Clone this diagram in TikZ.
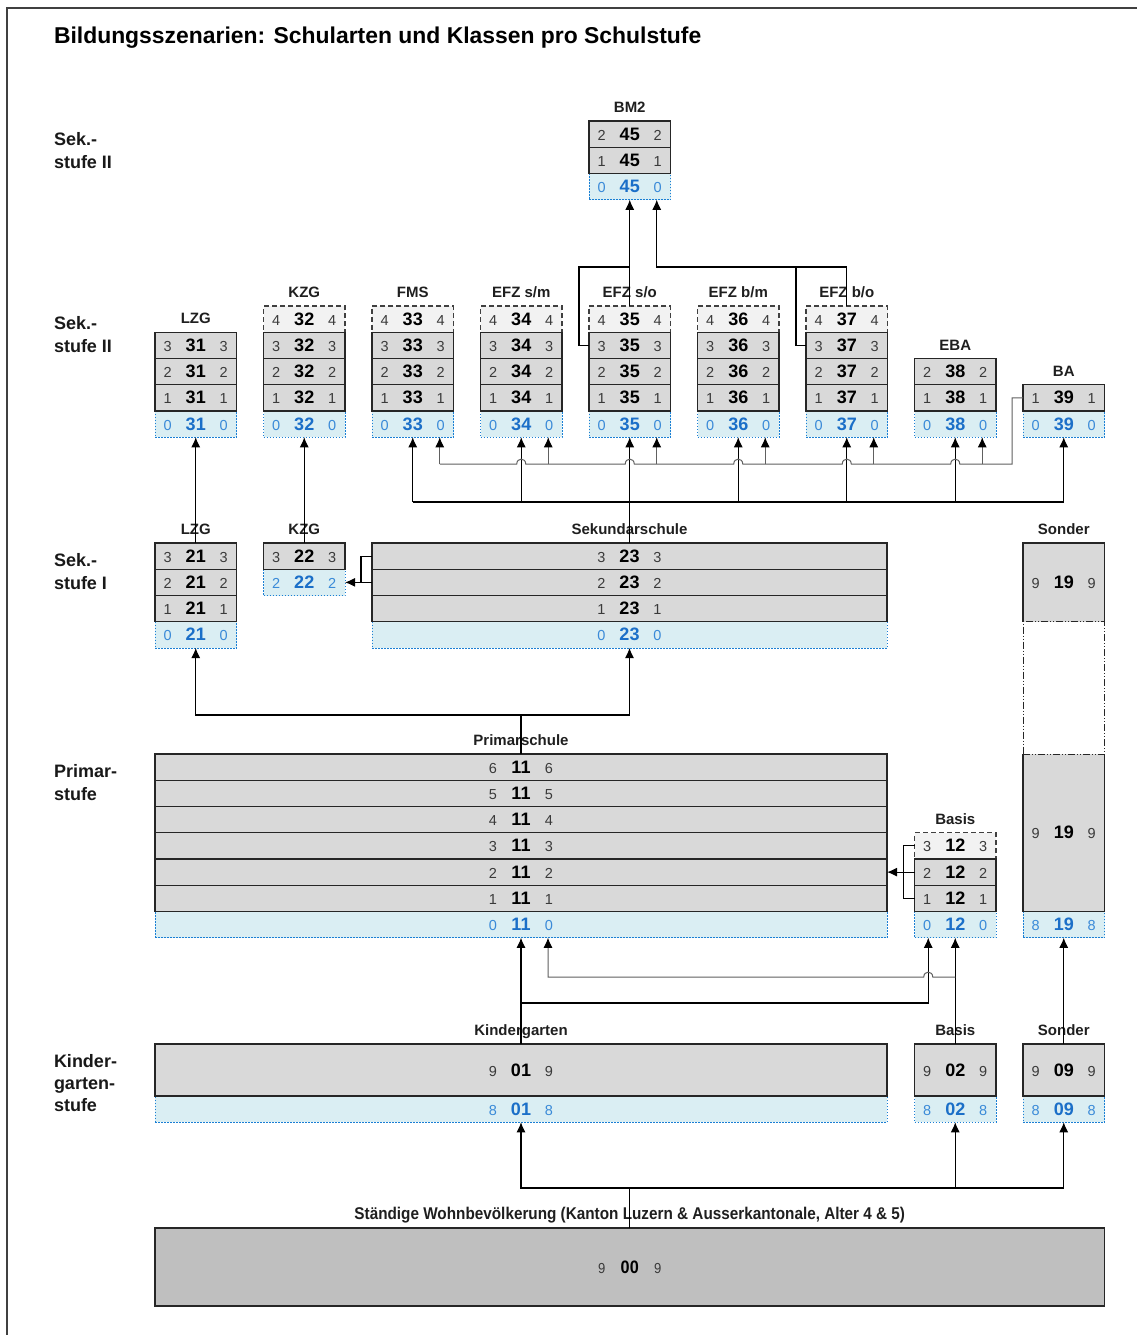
\documentclass[tikz,border=0pt]{standalone}
\usepackage{fontspec}
\setmainfont{Liberation Sans}
\newfontfamily\narrowfont[FakeStretch=0.9]{Liberation Sans}
\usetikzlibrary{arrows.meta,calc}
\definecolor{cgray}{HTML}{D9D9D9}
\definecolor{cfade}{HTML}{F2F2F2}
\definecolor{cblue}{HTML}{DAEEF3}
\definecolor{bborder}{HTML}{1A7FD4}
\definecolor{btext}{HTML}{3A8AD8}
\definecolor{bbig}{HTML}{1B6FC8}
\definecolor{cdark}{HTML}{BFBFBF}
\definecolor{tdark}{HTML}{3A3A3A}
\definecolor{lgray}{HTML}{606060}
\tikzset{
 every node/.style={inner sep=0pt, outer sep=0pt},
 gbox/.style={draw=black!85, fill=cgray, line width=1.1pt},
 sbox/.style={fill=cgray},
 fbox/.style={draw=black!75, fill=cfade, line width=1.1pt, dash pattern=on 5pt off 3pt},
 bbox/.style={draw=bborder, fill=cblue, line width=0.9pt, dash pattern=on 1.5pt off 1.5pt},
 dbox/.style={draw=black!85, fill=cdark, line width=1.1pt},
 gsm/.style={font=\fontsize{14.5}{16}\selectfont, text=tdark},
 gbg/.style={font=\fontsize{18}{20}\selectfont\bfseries, text=black},
 ssm/.style={gsm}, sbg/.style={gbg},
 fsm/.style={gsm}, fbg/.style={gbg},
 bsm/.style={font=\fontsize{14.5}{16}\selectfont, text=btext},
 bbg/.style={font=\fontsize{18}{20}\selectfont\bfseries, text=bbig},
 dsm/.style={font=\narrowfont\fontsize{14.5}{16}\selectfont, text=tdark},
 dbg/.style={font=\narrowfont\fontsize{18}{20}\selectfont\bfseries, text=black},
 lab/.style={font=\fontsize{15}{17}\selectfont\bfseries, text=black!88, anchor=base},
 side/.style={font=\fontsize{18}{20}\selectfont\bfseries, text=black!90, anchor=base west},
 bline/.style={draw=black!85, line width=1.1pt},
 arr/.style={line width=1.1pt, -{Latex[length=10pt,width=9pt]}},
 con/.style={line width=1.1pt},
 garr/.style={line width=1pt, draw=lgray, -{Latex[length=10pt,width=9pt,color=black]}},
 gcon/.style={line width=1pt, draw=lgray},
}
\newcommand\mkcell[8]{%
 \node[#2box, minimum width=#5pt, minimum height=#6pt, anchor=north west] (#1) at (#3,#4) {};
 \node[#2sm, anchor=base] (#1-l) at ($(#1.center)+(-28,6)$) {#7};
 \node[#2bg, anchor=base] (#1-m) at ($(#1.center)+(0,6)$) {#8};
 \node[#2sm, anchor=base] (#1-r) at ($(#1.center)+(28,6)$) {#7};
}
\begin{document}
\begin{tikzpicture}[x=1pt,y=-1pt]
\useasboundingbox (0,0) rectangle (1137,1335);
\fill[white] (0,0) rectangle (1137,1335);
\draw[black!75, line width=1.2pt] (7,1335) -- (7,8) -- (1137,8);

% title and side labels
\node[font=\fontsize{22.9}{25}\selectfont\bfseries, anchor=base west] (title) at (54,44) {Bildungsszenarien: Schularten und Klassen pro Schulstufe};
\node[side] (s1a) at (54,146) {Sek.-};
\node[side] (s1b) at (54,168) {stufe II};
\node[side] (s2a) at (54,329) {Sek.-};
\node[side] (s2b) at (54,352) {stufe II};
\node[side] (s3a) at (54,566) {Sek.-};
\node[side] (s3b) at (54,589) {stufe I};
\node[side] (s4a) at (54,777) {Primar-};
\node[side] (s4b) at (54,800) {stufe};
\node[side] (s5a) at (54,1067) {Kinder-};
\node[side] (s5b) at (54,1089) {garten-};
\node[side] (s5c) at (54,1111) {stufe};

% BM2
\mkcell{bm2-0}{b}{589}{173.5}{81.5}{26.25}{0}{45}
\mkcell{bm2-2}{g}{589}{121}{81.5}{26.25}{2}{45}
\mkcell{bm2-1}{g}{589}{147.25}{81.5}{26.25}{1}{45}
\node[lab] (lbm2) at (629.75,112.5) {BM2};

% Sek II columns
\foreach \i/\num/\lab/\top in {0/31/LZG/3,1/32/KZG/4,2/33/FMS/4,3/34/{EFZ s/m}/4,4/35/{EFZ s/o}/4,5/36/{EFZ b/m}/4,6/37/{EFZ b/o}/4,7/38/EBA/2,8/39/BA/1}{
 \pgfmathsetmacro\xl{155+108.5*\i}
 \pgfmathsetmacro\xc{\xl+40.75}
 \pgfmathsetmacro\yl{411-26.25*\top-8.5}
 \pgfmathtruncatemacro\gtop{min(\top,3)}
 \mkcell{c\num-0}{b}{\xl}{411}{81.5}{26.25}{0}{\num}
 \ifnum\top=4
  \mkcell{c\num-4}{f}{\xl}{306}{81.5}{26.25}{4}{\num}
 \fi
 \foreach \r in {1,...,\gtop}{
  \pgfmathsetmacro\yr{411-26.25*\r}
  \mkcell{c\num-\r}{g}{\xl}{\yr}{81.5}{26.25}{\r}{\num}
 }
 \node[lab] (l\num) at (\xc,\yl) {\lab};
}

% Sek I
\mkcell{c21-0}{b}{155}{621.75}{81.5}{26.25}{0}{21}
\mkcell{c21-3}{g}{155}{543}{81.5}{26.25}{3}{21}
\mkcell{c21-2}{g}{155}{569.25}{81.5}{26.25}{2}{21}
\mkcell{c21-1}{g}{155}{595.5}{81.5}{26.25}{1}{21}
\mkcell{c22-2}{b}{263.5}{569.25}{81.5}{26.25}{2}{22}
\mkcell{c22-3}{g}{263.5}{543}{81.5}{26.25}{3}{22}
\mkcell{sek-0}{b}{372}{621.75}{515}{26.25}{0}{23}
\mkcell{sek-3}{g}{372}{543}{515}{26.25}{3}{23}
\mkcell{sek-2}{g}{372}{569.25}{515}{26.25}{2}{23}
\mkcell{sek-1}{g}{372}{595.5}{515}{26.25}{1}{23}
\node[lab] (l21) at (195.75,534.5) {LZG};
\node[lab] (l22) at (304.25,534.5) {KZG};
\node[lab] (lsek) at (629.5,534.5) {Sekundarschule};
\node[lab] (lson) at (1063.75,534.5) {Sonder};

% Sonder (Sek I + Primar)
\mkcell{son-t}{s}{1023}{543}{81.5}{78.75}{9}{19}
\draw[bline] (son-t.south west) -- (son-t.north west) -- (son-t.north east) -- (son-t.south east);
\mkcell{son-0}{b}{1023}{911.5}{81.5}{26.25}{8}{19}
\mkcell{son-1}{s}{1023}{754}{81.5}{157.5}{9}{19}
\draw[bline] (son-1.north west) -- (son-1.south west) -- (son-1.south east) -- (son-1.north east);
\node[draw=black!85, line width=1pt, dash pattern=on 7pt off 2pt on 1pt off 2pt on 1pt off 2pt, minimum width=81.5pt, minimum height=132.25pt, anchor=north west] (son-g) at (1023,621.75) {};

% Primar
\mkcell{prim-0}{b}{155}{911.5}{732}{26.25}{0}{11}
\foreach \r in {1,...,6}{
 \pgfmathsetmacro\yr{911.5-26.25*\r}
 \mkcell{prim-\r}{g}{155}{\yr}{732}{26.25}{\r}{11}
}
\node[lab] (lprim) at (521,745.5) {Primarschule};
\mkcell{bas-0}{b}{914.5}{911.5}{81.5}{26.25}{0}{12}
\mkcell{bas-3}{f}{914.5}{832.75}{81.5}{26.25}{3}{12}
\mkcell{bas-2}{g}{914.5}{859}{81.5}{26.25}{2}{12}
\mkcell{bas-1}{g}{914.5}{885.25}{81.5}{26.25}{1}{12}
\node[lab] (lbas) at (955.25,824.25) {Basis};

% Kindergarten
\mkcell{kg-8}{b}{155}{1096}{732}{26.25}{8}{01}
\mkcell{kg-9}{g}{155}{1044}{732}{52}{9}{01}
\mkcell{kb-8}{b}{914.5}{1096}{81.5}{26.25}{8}{02}
\mkcell{kb-9}{g}{914.5}{1044}{81.5}{52}{9}{02}
\mkcell{ks-8}{b}{1023}{1096}{81.5}{26.25}{8}{09}
\mkcell{ks-9}{g}{1023}{1044}{81.5}{52}{9}{09}
\node[lab] (lkg) at (521,1035.5) {Kindergarten};
\node[lab] (lkb) at (955.25,1035.5) {Basis};
\node[lab] (lks) at (1063.75,1035.5) {Sonder};

% population
\mkcell{bev}{d}{155}{1228}{949.5}{78}{9}{00}
\node[lab, font=\narrowfont\fontsize{17}{19}\selectfont\bfseries] (lbev) at (629.75,1219.5) {Ständige Wohnbevölkerung (Kanton Luzern \& Ausserkantonale, Alter 4 \& 5)};

% ---- connectors ----
% to BM2
\coordinate (j1) at (629.75,267);
\coordinate (j2) at (656.75,267);
\draw[arr] (c35-4.north) -- (bm2-0.south);
\draw[con] (c35-3.west) -- ++(-10,0) |- (j1);
\draw[arr] (c37-4.north) |- (j2) -- ($(bm2-0.south)+(27,0)$);
\draw[con] (c37-3.west) -- ++(-10,0) -- ++(0,-78.125);

% Sek I -> Sek II
\draw[arr] (c21-3.north) -- (c31-0.south);
\draw[arr] (c22-3.north) -- (c32-0.south);
\coordinate (s1) at (629.5,502);
\draw[con] (sek-3.north) -- (s1);
\draw[con] (412.75,502) -- (1063.75,502);
\foreach \n in {33,...,39}{
 \draw[arr] (c\n-0.south |- s1) -- (c\n-0.south);
}
% BA row 1 -> secondary network
\draw[gcon] (c39-1.west) -- (1012,397.875) -- (1012,464)
 -- (959.75,464) .. controls (959.75,457.5) and (950.75,457.5) .. (950.75,464)
 -- (851.25,464) .. controls (851.25,457.5) and (842.25,457.5) .. (842.25,464)
 -- (742.75,464) .. controls (742.75,457.5) and (733.75,457.5) .. (733.75,464)
 -- (634.25,464) .. controls (634.25,457.5) and (625.25,457.5) .. (625.25,464)
 -- (525.75,464) .. controls (525.75,457.5) and (516.75,457.5) .. (516.75,464)
 -- (439.75,464);
\draw[garr] (439.75,464) -- ($(c33-0.south)+(27,0)$);
\foreach \n in {34,...,38}{
 \draw[garr] ($(c\n-0.south)+(27,27)$) -- ($(c\n-0.south)+(27,0)$);
}

% KZG bracket
\draw[con] (sek-3.west) -- ++(-11,0) |- (sek-2.west);
\draw[arr] (sek-2.west) -- (c22-2.east);

% Primar -> Sek I
\coordinate (p1) at (521,715);
\draw[con] (prim-6.north) -- (p1);
\draw[arr] (p1) -| (c21-0.south);
\draw[arr] (p1) -| (sek-0.south);

% Basis bracket
\draw[con] (bas-3.west) -- ++(-11,0) |- (bas-1.west);
\draw[arr] (bas-2.west) -- (prim-2.east);

% Kindergarten -> Primar
\coordinate (k1) at (521,1003);
\draw[arr] (kg-9.north) -- (prim-0.south);
\draw[arr] (k1) -| ($(bas-0.south)+(-27,0)$);
\draw[arr] (kb-9.north) -- (bas-0.south);
\draw[garr] (955.25,977) -- (932.75,977) .. controls (932.75,970.5) and (923.75,970.5) .. (923.75,977)
 -- (548,977) -- ($(prim-0.south)+(27,0)$);
\draw[arr] (ks-9.north) -- (son-0.south);

% population -> Kindergarten
\coordinate (b1) at (629.75,1188);
\draw[con] (bev.north) -- (b1);
\draw[arr] (b1) -| (kg-8.south);
\draw[arr] (b1) -| (kb-8.south);
\draw[arr] (b1) -| (ks-8.south);
\end{tikzpicture}
\end{document}
